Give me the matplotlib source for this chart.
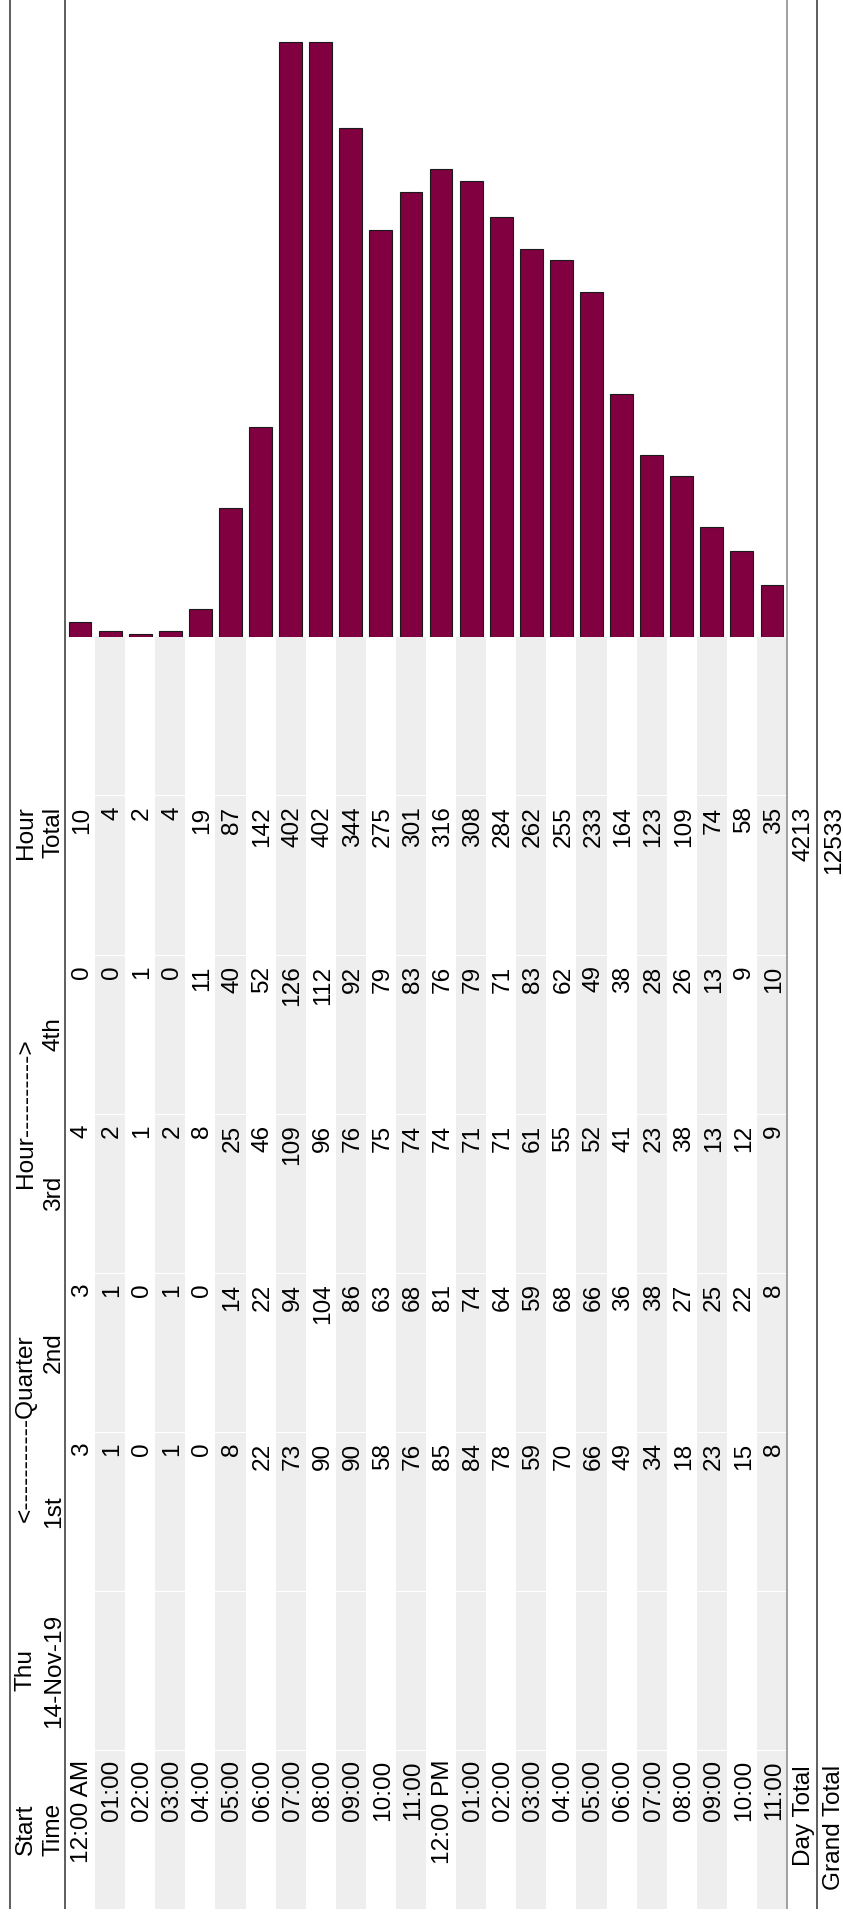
import matplotlib
matplotlib.use('Agg')
import matplotlib.pyplot as plt
import numpy as np

hours = ['12:00 AM', '01:00', '02:00', '03:00', '04:00', '05:00', '06:00', '07:00',
         '08:00', '09:00', '10:00', '11:00', '12:00 PM', '01:00', '02:00', '03:00',
         '04:00', '05:00', '06:00', '07:00', '08:00', '09:00', '10:00', '11:00']
q1 = [3, 1, 0, 1, 0, 8, 22, 73, 90, 90, 58, 76, 85, 84, 78, 59, 70, 66, 49, 34, 18, 23, 15, 8]
q2 = [3, 1, 0, 1, 0, 14, 22, 94, 104, 86, 63, 68, 81, 74, 64, 59, 68, 66, 36, 38, 27, 25, 22, 8]
q3 = [4, 2, 1, 2, 8, 25, 46, 109, 96, 76, 75, 74, 74, 71, 71, 61, 55, 52, 41, 23, 38, 13, 12, 9]
q4 = [0, 0, 1, 0, 11, 40, 52, 126, 112, 92, 79, 83, 76, 79, 71, 83, 62, 49, 38, 28, 26, 13, 9, 10]
hour_total = [10, 4, 2, 4, 19, 87, 142, 402, 402, 344, 275, 301, 316, 308, 284, 262,
              255, 233, 164, 123, 109, 74, 58, 35]
day_total = 4213
grand_total = 12533
day_label = ['Thu', '14-Nov-19']

W, H = 843, 1913
FS = 17.6
FONT = ['Liberation Sans', 'DejaVu Sans']

fig = plt.figure(figsize=(W / 100, H / 100), dpi=100)
ax = fig.add_axes([0, 0, 1, 1])
ax.set_xlim(0, W)
ax.set_ylim(H, 0)
ax.axis('off')

row0, row1 = 65, 787
n = len(hours)
rw = (row1 - row0) / n
rx = row0 + rw * np.arange(n)
base = 637
bottom = 1909
cw = 159.1
# lower edge (in y) of each column: start, thu, 1st, 2nd, 3rd, 4th, total, chart
bounds = [1750 - cw * k for k in range(8)]

# zebra stripes
odd = np.arange(n) % 2 == 1
ax.bar(rx[odd], bottom - base, bottom=base, width=rw, align='edge', color='#eeeeee', zorder=0)
ax.hlines(bounds[:-1], row0, row1, color='white', lw=0.8, zorder=1)

# border lines
ax.vlines([10, 64.5, 817], 0, bottom, color='#333333', lw=1.1, zorder=3)
ax.vlines([787], 0, bottom, color='#888888', lw=1.1, zorder=3)


def vtext(x, y, s, ha):
    ax.text(x, y, s, rotation=90, rotation_mode='anchor', ha=ha, va='baseline',
            fontsize=FS, family=FONT, color='black', zorder=4)


# headers
hx1, hx2 = 32, 60
vtext(hx1, bounds[0] + cw / 2, 'Start', 'center')
vtext(hx2, bounds[0] + cw / 2, 'Time', 'center')
vtext(hx1, bounds[1] + cw / 2, day_label[0], 'center')
vtext(hx2, bounds[1] + cw / 2, day_label[1], 'center')
vtext(hx1, 1522, '<-----------Quarter', 'left')
vtext(hx1, 1188, 'Hour---------->', 'left')
for k, lab in enumerate(['1st', '2nd', '3rd', '4th']):
    vtext(hx2, bounds[k + 2] + cw / 2, lab, 'center')
vtext(hx1, bounds[6] + 11, 'Hour', 'right')
vtext(hx2, bounds[6] + 11, 'Total', 'right')

# body
cols = [q1, q2, q3, q4, hour_total]
for i in range(n):
    bx = rx[i] + 23
    vtext(bx, 1760, hours[i], 'right')
    for k, col in enumerate(cols):
        vtext(bx, bounds[k + 2] + 11, str(col[i]), 'right')

vtext(810, 1765, 'Day Total', 'right')
vtext(840, 1765, 'Grand Total', 'right')
vtext(810, bounds[6] + 11, str(day_total), 'right')
vtext(840, bounds[6] + 11, str(grand_total), 'right')

# bar chart of hour totals
axc = fig.add_axes([row0 / W, (H - base) / H, (row1 - row0) / W, base / H])
axc.bar(np.arange(n), hour_total, width=0.76, color='#800040', edgecolor='#1a1a1a', linewidth=0.8)
axc.set_xlim(-0.5, n - 0.5)
axc.set_ylim(0, base / 1.48)
axc.axis('off')

fig.savefig('out.png', dpi=100)
